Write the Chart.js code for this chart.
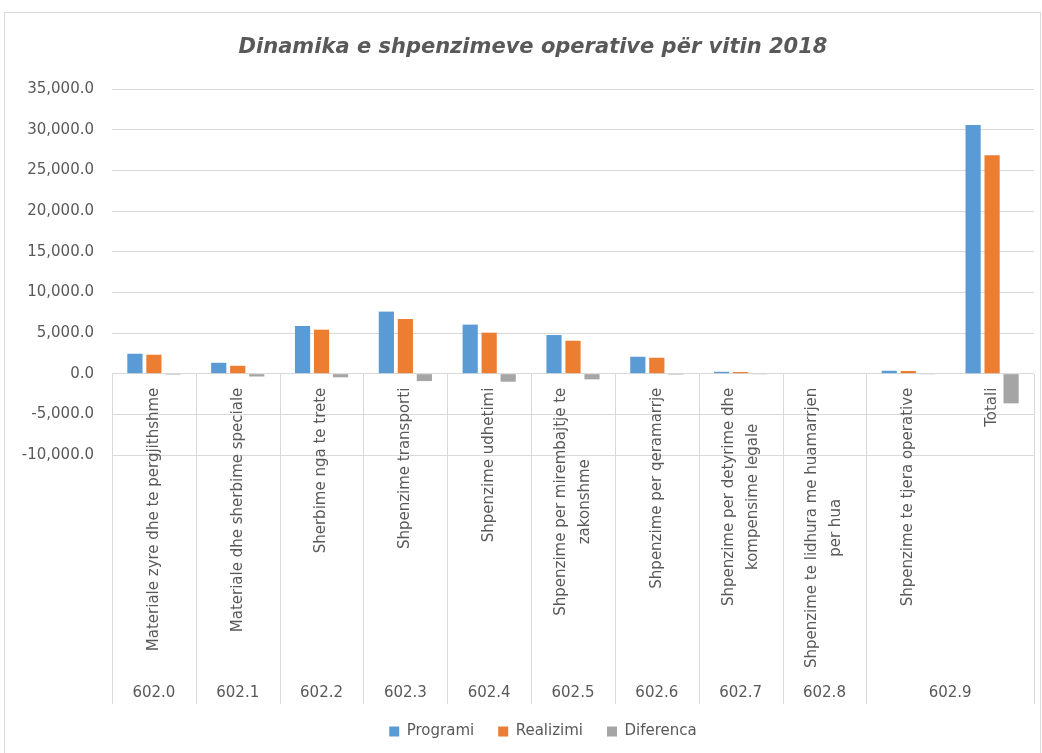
<!DOCTYPE html>
<html><head><meta charset="utf-8">
<script src="https://cdn.jsdelivr.net/npm/chart.js@4.4.0/dist/chart.umd.min.js"></script>
<style>
html,body{margin:0;padding:0;background:#fff;}
#wrap{position:relative;width:1042px;height:753px;overflow:hidden;}
#frame{position:absolute;left:4px;top:12px;width:1035px;height:760px;border:1px solid #d9d9d9;pointer-events:none;}
canvas{position:absolute;left:0;top:0;}
</style></head><body>
<div id="wrap"><canvas id="c" width="1042" height="753"></canvas><div id="frame"></div></div>
<script>
const titleText = 'Dinamika e shpenzimeve operative për vitin 2018';
const categories = [
  ['Materiale zyre dhe te pergjithshme'],
  ['Materiale dhe sherbime speciale'],
  ['Sherbime nga te trete'],
  ['Shpenzime transporti'],
  ['Shpenzime udhetimi'],
  ['Shpenzime per mirembajtje te', 'zakonshme'],
  ['Shpenzime per qeramarrje'],
  ['Shpenzime per detyrime dhe', 'kompensime legale'],
  ['Shpenzime te lidhura me huamarrjen', 'per hua'],
  ['Shpenzime te tjera operative'],
  ['Totali']
];
const groupLabels = ['602.0','602.1','602.2','602.3','602.4','602.5','602.6','602.7','602.8','602.9'];
const groupSpans  = [1,1,1,1,1,1,1,1,1,2];
const seriesNames = ['Programi','Realizimi','Diferenca'];
const programi  = [2450, 1340, 5860, 7630, 6030, 4750, 2080, 230, 0, 360, 30560];
const realizimi = [2330,  970, 5410, 6720, 5040, 4050, 1960, 200, 0, 330, 26860];
const diferenca = [-120, -350, -450, -910, -990, -700, -120, -30, 0, -30, -3650];
const yTicks = {min: -10000, max: 35000, step: 5000};

const FONT = 'DejaVu Sans';
const TXT = '#595959';
const GRID = '#d9d9d9';

const shiftPlugin = {
  id: 'shiftBoxes',
  afterLayout(chart) {
    if (chart.legend) { chart.legend.left += 21; chart.legend.right += 21; }
    if (chart.titleBlock) { chart.titleBlock.left += 11; chart.titleBlock.right += 11; }
  }
};

const catLabelPlugin = {
  id: 'catLabels',
  afterDraw(chart) {
    const ctx = chart.ctx, xs = chart.scales.x, ys = chart.scales.y;
    const y0 = ys.getPixelForValue(0);
    const n = categories.length;
    const w = (xs.right - xs.left) / n;
    const bottom = 704;
    ctx.save();
    ctx.strokeStyle = GRID; ctx.lineWidth = 1;
    let idx = 0; const bounds = [0];
    groupSpans.forEach(s => { idx += s; bounds.push(idx); });
    bounds.forEach(b => {
      const px = Math.round(xs.getPixelForValue(b) - w / 2) + 0.5;
      ctx.beginPath(); ctx.moveTo(px, Math.round(y0)); ctx.lineTo(px, bottom); ctx.stroke();
    });
    ctx.fillStyle = TXT;
    ctx.font = '15px "' + FONT + '"';
    ctx.textAlign = 'center'; ctx.textBaseline = 'middle';
    categories.forEach((lines, i) => {
      const cx = xs.getPixelForValue(i);
      const maxW = Math.max(...lines.map(l => ctx.measureText(l).width));
      const cy = y0 + 14 + maxW / 2;
      const gap = 24;
      lines.forEach((l, j) => {
        const off = (j - (lines.length - 1) / 2) * gap;
        ctx.save();
        ctx.translate(cx + off, cy);
        ctx.rotate(-Math.PI / 2);
        ctx.fillText(l, 0, 0);
        ctx.restore();
      });
    });
    let start = 0;
    groupLabels.forEach((g, k) => {
      const a = start, b = start + groupSpans[k] - 1;
      const cx = (xs.getPixelForValue(a) + xs.getPixelForValue(b)) / 2;
      ctx.fillText(g, cx, 693);
      start += groupSpans[k];
    });
    ctx.restore();
  }
};

new Chart(document.getElementById('c'), {
  type: 'bar',
  data: {
    labels: categories.map(c => c.join(' ')),
    datasets: [
      {label: seriesNames[0], data: programi,  backgroundColor: '#5b9bd5'},
      {label: seriesNames[1], data: realizimi, backgroundColor: '#ed7d31'},
      {label: seriesNames[2], data: diferenca, backgroundColor: '#a5a5a5'}
    ]
  },
  options: {
    responsive: false,
    animation: false,
    datasets: {bar: {categoryPercentage: 0.68, barPercentage: 0.8, borderWidth: 0}},
    layout: {padding: {left: 10, right: 8, top: 25, bottom: 4}},
    plugins: {
      title: {display: true, text: titleText, color: TXT,
        font: {family: FONT, size: 21, weight: 'bold', style: 'italic'},
        padding: {top: 10, bottom: 28.8}},
      legend: {position: 'bottom',
        labels: {color: TXT, font: {family: FONT, size: 15}, boxWidth: 10, boxHeight: 10, padding: 24}},
      tooltip: {enabled: false}
    },
    scales: {
      x: {
        ticks: {display: false},
        grid: {display: false},
        border: {display: false},
        afterFit(scale) { scale.height = 245; }
      },
      y: {
        min: yTicks.min, max: yTicks.max,
        ticks: {stepSize: yTicks.step, color: TXT, font: {family: FONT, size: 15}, padding: 18,
          callback: v => Number(v).toLocaleString('en-US', {minimumFractionDigits: 1, maximumFractionDigits: 1})},
        grid: {color: GRID, drawTicks: false},
        border: {display: false},
        afterFit(scale) { scale.width = 112 - 10; }
      }
    }
  },
  plugins: [shiftPlugin, catLabelPlugin]
});
</script>
</body></html>
